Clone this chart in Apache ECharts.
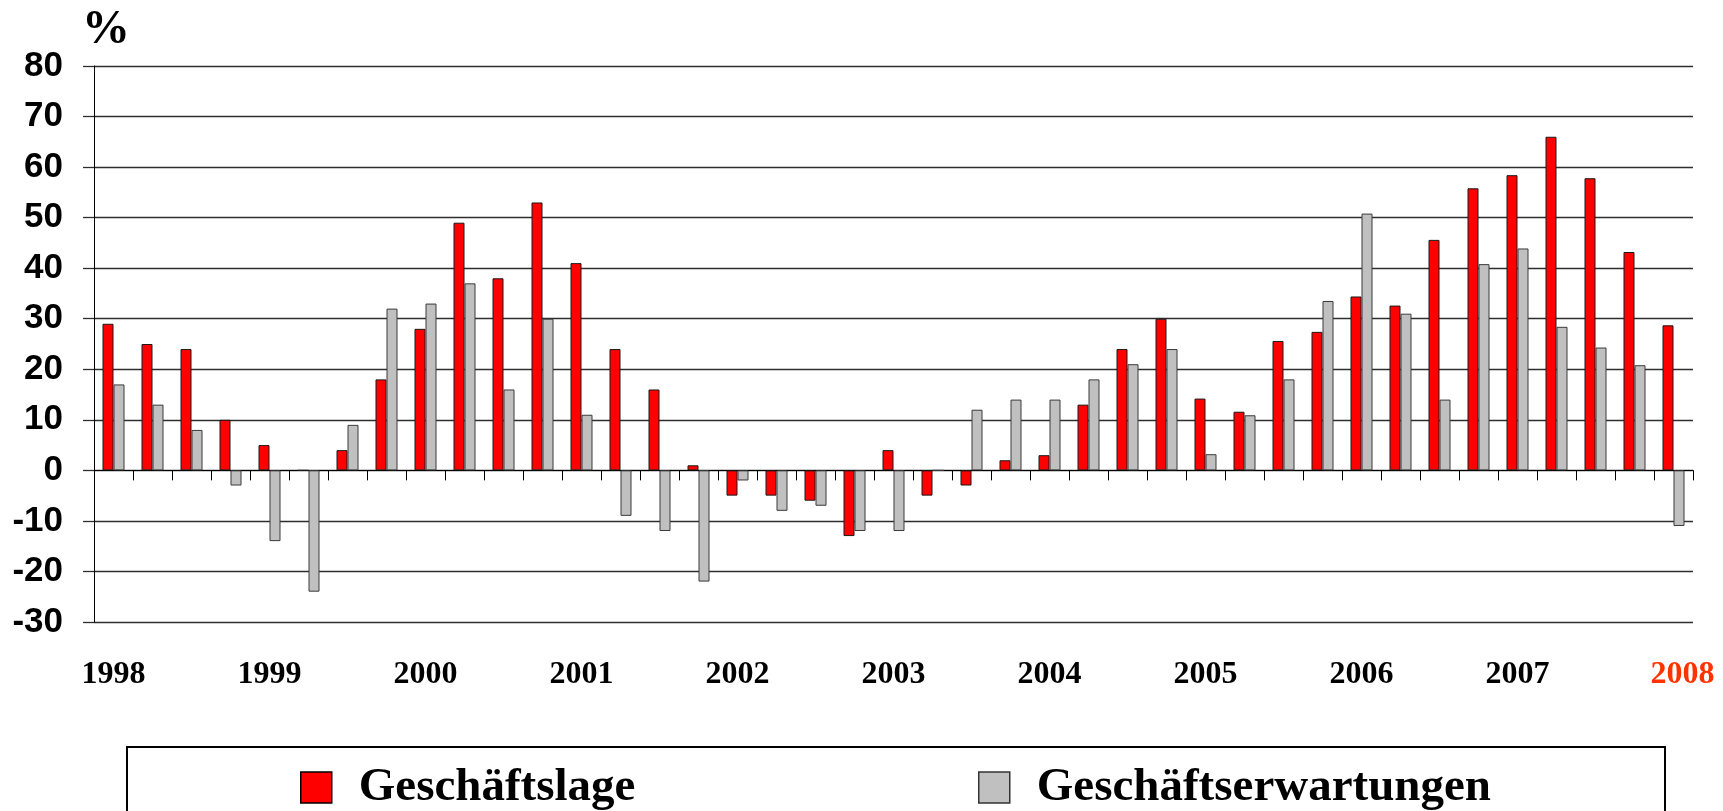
<!DOCTYPE html>
<html>
<head>
<meta charset="utf-8">
<script src="https://cdn.jsdelivr.net/npm/echarts@6/dist/echarts.min.js"></script>
<style>
  html, body { margin: 0; padding: 0; background: #fff; }
  #chart { width: 1723px; height: 811px; }
</style>
</head>
<body>
<div id="chart"></div>
<script>
// Quarters 1998 Q1 .. 2008 Q1
const categories = [
  'Q1 1998','Q2 1998','Q3 1998','Q4 1998',
  'Q1 1999','Q2 1999','Q3 1999','Q4 1999',
  'Q1 2000','Q2 2000','Q3 2000','Q4 2000',
  'Q1 2001','Q2 2001','Q3 2001','Q4 2001',
  'Q1 2002','Q2 2002','Q3 2002','Q4 2002',
  'Q1 2003','Q2 2003','Q3 2003','Q4 2003',
  'Q1 2004','Q2 2004','Q3 2004','Q4 2004',
  'Q1 2005','Q2 2005','Q3 2005','Q4 2005',
  'Q1 2006','Q2 2006','Q3 2006','Q4 2006',
  'Q1 2007','Q2 2007','Q3 2007','Q4 2007',
  'Q1 2008'
];
const geschaeftslage = [
  29, 25, 24, 10,
  5, 0, 4, 18,
  28, 49, 38, 53,
  41, 24, 16, 1,
  -5, -5, -6, -13,
  4, -5, -3, 2,
  3, 13, 24, 30,
  14.2, 11.6, 25.6, 27.4,
  34.4, 32.6, 45.6, 55.8,
  58.4, 66, 57.8, 43.2,
  28.7
];
const geschaeftserwartungen = [
  17, 13, 8, -3,
  -14, -24, 9, 32,
  33, 37, 16, 30,
  11, -9, -12, -22,
  -2, -8, -7, -12,
  -12, 0, 12, 14,
  14, 18, 21, 24,
  3.2, 10.9, 18, 33.5,
  50.8, 31, 14, 40.8,
  43.9, 28.4, 24.3, 20.8,
  -11
];
const seriesNames = ['Geschäftslage', 'Geschäftserwartungen'];
const highlightYear = '2008';

const chart = echarts.init(document.getElementById('chart'), null, { renderer: 'canvas' });

const gridColor = '#2e2e2e';
const serif = '"Liberation Serif", "Times New Roman", serif';
const sans = '"Liberation Sans", Arial, sans-serif';

const option = {
  backgroundColor: '#ffffff',
  animation: false,
  grid: { left: 94, right: 30, top: 66, bottom: 189, containLabel: false },
  xAxis: [
    {
      type: 'category',
      data: categories,
      position: 'bottom',
      axisLine: { show: true, onZero: true, lineStyle: { color: '#000', width: 1.2 } },
      axisTick: { show: true, interval: 0, length: 10, inside: false, alignWithLabel: false, lineStyle: { color: '#000', width: 1 } },
      axisLabel: { show: false },
      splitLine: { show: false }
    },
    {
      type: 'category',
      data: categories,
      position: 'bottom',
      axisLine: { show: false, onZero: false },
      axisTick: { show: false },
      splitLine: { show: false },
      axisLabel: {
        show: true,
        interval: 3,
        margin: 37,
        formatter: function (v) {
          const y = v.slice(3);
          return y === highlightYear ? '{r|' + y + '}' : '{b|' + y + '}';
        },
        rich: {
          b: { fontFamily: serif, fontWeight: 'bold', fontSize: 32, color: '#000' },
          r: { fontFamily: serif, fontWeight: 'bold', fontSize: 32, color: '#ff3300', padding: [0, 0, 0, 18] }
        }
      }
    }
  ],
  yAxis: {
    type: 'value',
    min: -30,
    max: 80,
    interval: 10,
    axisLine: { show: true, lineStyle: { color: '#000', width: 1 } },
    axisTick: { show: true, length: 11, inside: false, lineStyle: { color: gridColor, width: 1.3 } },
    axisLabel: {
      margin: 31,
      fontFamily: sans,
      fontWeight: 'bold',
      fontSize: 35,
      color: '#000'
    },
    splitLine: { show: true, lineStyle: { color: gridColor, width: 1.3 } }
  },
  legend: [
    {
      data: [seriesNames[0]],
      left: 300,
      top: 764,
      padding: 0,
      itemWidth: 31,
      itemHeight: 31,
      icon: 'rect',
      selectedMode: false,
      itemStyle: { color: '#ff0000', borderColor: '#000', borderWidth: 1.5 },
      textStyle: { fontFamily: serif, fontWeight: 'bold', fontSize: 47, color: '#000', padding: [0, 0, 0, 22] }
    },
    {
      data: [seriesNames[1]],
      left: 978,
      top: 764,
      padding: 0,
      itemWidth: 31,
      itemHeight: 31,
      icon: 'rect',
      selectedMode: false,
      itemStyle: { color: '#c0c0c0', borderColor: '#333', borderWidth: 1.5 },
      textStyle: { fontFamily: serif, fontWeight: 'bold', fontSize: 47, color: '#000', padding: [0, 0, 0, 22] }
    }
  ],
  graphic: [
    {
      type: 'text',
      left: 82,
      top: 7,
      style: { text: '%', font: 'bold 48px ' + serif, fill: '#000' }
    },
    {
      type: 'rect',
      shape: { x: 127, y: 747, width: 1538, height: 120 },
      style: { fill: 'none', stroke: '#000', lineWidth: 2 },
      silent: true
    }
  ],
  series: [
    {
      name: seriesNames[0],
      type: 'bar',
      xAxisIndex: 0,
      data: geschaeftslage,
      barWidth: 11,
      barGap: '0%',
      itemStyle: { color: '#ff0000', borderColor: '#1a1a1a', borderWidth: 1 }
    },
    {
      name: seriesNames[1],
      type: 'bar',
      xAxisIndex: 0,
      data: geschaeftserwartungen,
      barWidth: 11,
      barGap: '0%',
      itemStyle: { color: '#c0c0c0', borderColor: '#3a3a3a', borderWidth: 1 }
    }
  ]
};

chart.setOption(option);
</script>
</body>
</html>
